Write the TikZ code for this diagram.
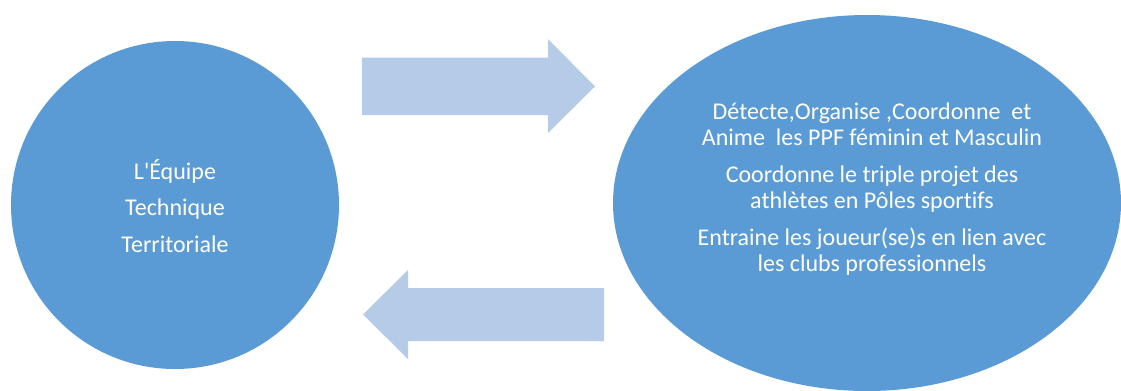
\documentclass[tikz,border=0pt]{standalone}
\usepackage{fontspec}
\setmainfont{Carlito}[Ligatures=CommonOff]
\usepackage{tikz}
\usetikzlibrary{calc}
\tikzset{every picture/.style={line width=0.75pt}}
\definecolor{shapeblue}{RGB}{91,155,213}
\definecolor{arrowblue}{RGB}{182,203,232}
\tikzset{
  blobtext/.style={anchor=center,inner sep=0.75pt,text=white,align=center,font=\fontsize{18}{19.6}\selectfont},
}

\begin{document}
\begin{tikzpicture}[x=0.75pt,y=0.75pt,yscale=-1,xscale=1]
\useasboundingbox (0,0) rectangle (1121,390);
\clip (0,0) rectangle (1121,390);

%Shape: Circle [id:left]
\fill [color=shapeblue] (175,205) circle (164) ;
%Shape: Ellipse [id:right]
\fill [color=shapeblue] (867,203) ellipse (254 and 188) ;
%Shape: Right Arrow [id:top]
\fill [color=arrowblue] (362,57.7) -- (548,57.7) -- (548,39) -- (595,86.5) -- (548,133) -- (548,115) -- (362,115) -- cycle ;
%Shape: Left Arrow [id:bottom]
\fill [color=arrowblue] (604,288) -- (408,288) -- (408,270) -- (363,314.5) -- (408,359) -- (408,341) -- (604,341) -- cycle ;

% Text Node
\draw (175,206) node [blobtext] (ett) {L\textquotesingle Équipe\\[7.5pt]Technique\\[7.5pt]Territoriale};
% Text Node
\draw (872,189) node [blobtext] (roles) {Détecte,Organise ,Coordonne~ et\\Anime~ les PPF féminin et Masculin\\[8.2pt]Coordonne le triple projet des\\athlètes en Pôles sportifs\\[8.2pt]Entraine les joueur(se)s en lien avec\\les clubs professionnels};

\end{tikzpicture}
\end{document}
